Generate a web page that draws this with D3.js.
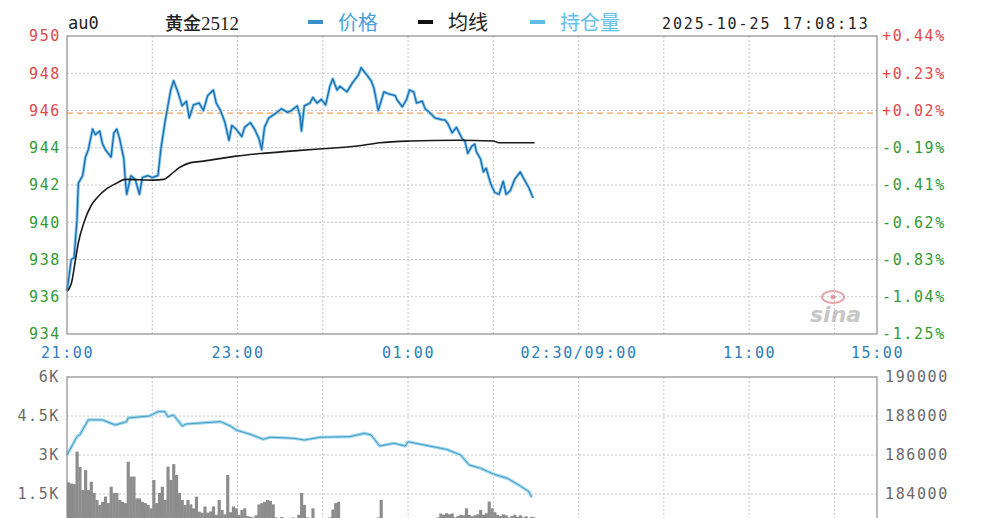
<!DOCTYPE html>
<html><head><meta charset="utf-8">
<script src="https://cdn.jsdelivr.net/npm/d3@7/dist/d3.min.js"></script>
<style>
html,body{margin:0;padding:0;background:#fff;overflow:hidden}
svg{display:block}
.mono{font-family:"DejaVu Sans Mono","Liberation Mono",monospace}
</style></head>
<body>
<script>
// ===== DATA =====
const symbolCode = "au0";
const symbolName = "黄金2512";
const legendNames = ["价格", "均线", "持仓量"];
const timestampText = "2025-10-25 17:08:13";
const prevClose = 945.86;

const priceTicks = [934, 936, 938, 940, 942, 944, 946, 948, 950];
const pctLabels = ["-1.25%", "-1.04%", "-0.83%", "-0.62%", "-0.41%", "-0.19%", "+0.02%", "+0.23%", "+0.44%"];
const timeTickMinutes = [0, 120, 240, 360, 480, 570];
const timeTickLabels = ["21:00", "23:00", "01:00", "02:30/09:00", "11:00", "15:00"];
const gridMinutes = [60, 120, 180, 240, 300, 360, 420, 480, 540];
const volTicks = [1500, 3000, 4500, 6000];
const volTickLabels = ["1.5K", "3K", "4.5K", "6K"];
const oiTicks = [184000, 186000, 188000, 190000];

// price: minutes since 21:00 and price
const priceMinutes = [0,3,5,7,8,11,13,15,18,20,23,25,27,31,33,35,37,40,41,42,45,48,51,53,57,60,64,66,69,73,75,78,81,84,86,89,93,96,99,103,105,108,111,114,116,119,123,125,129,132,135,137,139,142,146,151,155,158,162,164,165,167,171,173,176,179,182,185,187,190,192,197,201,205,207,211,214,216,219,223,226,231,232,236,239,241,244,246,250,252,255,259,264,266,268,271,274,278,280,282,285,287,288,291,293,295,298,301,304,307,309,312,315,319,321,325,328];
const priceValues = [936.3,938.0,938.1,940.1,942.1,942.5,943.5,943.9,945.0,944.7,944.9,944.2,943.9,943.5,944.8,945.0,944.5,943.4,942.3,941.5,942.5,942.3,941.5,942.4,942.5,942.4,942.5,943.9,945.4,947.1,947.6,947.0,946.25,946.5,945.6,946.3,946.4,946.0,946.8,947.1,946.4,946.0,945.4,944.4,945.2,945.0,944.6,945.1,945.35,945.0,944.5,943.9,945.1,945.6,945.8,946.1,945.9,946.0,946.25,945.7,944.9,946.25,946.4,946.7,946.4,946.6,946.3,947.3,947.7,947.1,947.3,947.0,947.5,947.9,948.3,947.9,947.6,947.2,946.0,947.0,946.9,946.8,946.6,946.2,946.6,947.1,947.0,946.4,946.5,946.1,945.9,945.6,945.5,945.5,945.3,944.8,945.1,944.5,944.35,943.7,944.1,944.2,943.8,943.4,942.7,942.9,942.1,941.6,941.5,942.2,941.5,941.7,942.3,942.7,942.4,941.85,941.3];

// average price line
const avgMinutes = [0,3,6,8,12,17,21,28,35,41,61,68,73,79,87,96,119,138,164,180,204,220,241,274,300,304,329];
const avgValues = [936.3,936.7,938.0,938.9,940.0,940.9,941.3,941.8,942.1,942.3,942.26,942.3,942.56,942.93,943.2,943.28,943.55,943.7,943.86,943.95,944.09,944.27,944.36,944.4,944.36,944.27,944.27];

// open interest
const oiMinutes = [0,7,9,15,25,34,42,43,58,64,69,71,75,81,84,98,108,115,119,129,138,143,159,167,178,199,209,214,220,230,238,240,255,267,277,283,291,300,310,318,325,327];
const oiValues = [186000,186940,187030,187800,187800,187540,187710,187900,188000,188220,188220,187960,188050,187490,187590,187660,187710,187490,187280,187060,186810,186910,186860,186770,186910,186940,187110,187030,186460,186600,186460,186680,186460,186290,186000,185490,185320,185030,184800,184460,184120,183830];

// volume, 2-minute bins from 21:00
const volumes = [1950,1900,1880,3130,2540,1650,2420,1650,1970,1540,1270,1080,1200,1400,1150,1780,1540,1540,1270,1200,1150,2740,2170,2170,1330,1330,1200,1150,1080,950,2040,1150,1540,1780,1270,2550,2040,2650,2230,1540,1270,1080,1270,1100,950,1400,820,780,1020,780,830,1020,700,1270,890,720,2230,800,1020,950,700,890,950,650,620,600,680,1100,1150,1200,1270,1240,1100,600,550,620,500,580,520,600,540,700,1540,1080,600,550,950,520,480,560,500,450,600,900,1150,1200,550,500,460,520,480,440,500,460,420,480,520,450,500,600,1270,550,480,440,500,460,420,480,450,400,460,500,440,420,480,450,500,520,480,560,600,750,700,760,720,750,600,650,700,680,950,700,640,680,720,890,700,760,1210,950,800,700,650,720,680,600,650,700,620,680,600,640,580,620,600];
const volBinMinutes = 2;

// ===== DRAW =====
const W = 990, H = 518;
const L = 67, R = 877;
const topY = 36, botY = 334;
const vTop = 377, vBot = 533;
const RED = "#e2474c", GREEN = "#349a34", BLUE_T = "#2b7dba", GRAY = "#6a6a6a";

const svg = d3.select("body").append("svg").attr("width", W).attr("height", H);

const x = d3.scaleLinear().domain([0, 570]).range([L, R]);
const yP = d3.scaleLinear().domain([934, 950]).range([botY, topY]);
const yV = d3.scaleLinear().domain([0, 6000]).range([vBot, vTop]);
const yO = d3.scaleLinear().domain([182000, 190000]).range([vBot, vTop]);

// ---- header ----
const hdr = svg.append("g");
hdr.append("text").attr("x", 68).attr("y", 29).attr("class", "mono")
  .style("font-size", "17px").attr("fill", "#222").text(symbolCode);
hdr.append("text").attr("x", 165).attr("y", 30)
  .style("font-family", "'Noto Sans CJK SC',sans-serif").style("font-size", "18px").style("font-weight", "500")
  .attr("fill", "#222").text(symbolName.slice(0, 2))
  .append("tspan").style("font-family", "'Liberation Serif',serif").style("font-size", "19px").style("font-weight", "400")
  .text(symbolName.slice(2));
const legendItems = [
  {x: 308, c: "#3a8fd0", tc: "#4aa2dc", name: legendNames[0]},
  {x: 418, c: "#111", tc: "#222", name: legendNames[1]},
  {x: 530, c: "#5cbde6", tc: "#66bfe8", name: legendNames[2]}
];
legendItems.forEach(it => {
  hdr.append("rect").attr("x", it.x).attr("y", 20).attr("width", 15).attr("height", 4).attr("fill", it.c);
  hdr.append("text").attr("x", it.x + 30).attr("y", 30)
    .style("font-family", "'Noto Sans CJK SC',sans-serif").style("font-size", "20px")
    .attr("fill", it.tc).text(it.name);
});
hdr.append("text").attr("x", 662).attr("y", 29).attr("class", "mono")
  .style("font-size", "15px").style("letter-spacing", "1.9px").attr("fill", "#222").text(timestampText);

// ---- grids ----
function dashedH(g, y) {
  g.append("line").attr("x1", L).attr("x2", R).attr("y1", y).attr("y2", y)
    .attr("stroke", "#c4c4c4").attr("stroke-dasharray", "2,2").attr("stroke-width", 1);
}
function dashedV(g, xx, y1, y2) {
  g.append("line").attr("x1", xx).attr("x2", xx).attr("y1", y1).attr("y2", y2)
    .attr("stroke", "#c4c4c4").attr("stroke-dasharray", "2,2").attr("stroke-width", 1);
}
const grid = svg.append("g");
priceTicks.filter(d => d > 934 && d < 950).forEach(d => dashedH(grid, yP(d)));
gridMinutes.forEach(m => dashedV(grid, x(m), topY, botY));
volTicks.filter(d => d < 6000).forEach(d => dashedH(grid, yV(d)));
gridMinutes.forEach(m => dashedV(grid, x(m), vTop, vBot));

// prev close dashed orange
svg.append("line").attr("x1", L).attr("x2", R).attr("y1", yP(prevClose)).attr("y2", yP(prevClose))
  .attr("stroke", "#f0a35a").attr("stroke-width", 1.3).attr("stroke-dasharray", "6,4");

// watermark sina
const wm = svg.append("g").attr("opacity", 0.55);
wm.append("ellipse").attr("cx", 833).attr("cy", 297).attr("rx", 11).attr("ry", 6)
  .attr("fill", "none").attr("stroke", "#d06060").attr("stroke-width", 2);
wm.append("circle").attr("cx", 833).attr("cy", 297).attr("r", 2.5).attr("fill", "#d06060");
wm.append("text").attr("x", 810).attr("y", 322)
  .style("font-family", "'DejaVu Sans',sans-serif").style("font-size", "22px").style("font-weight", "bold")
  .style("font-style", "italic").attr("fill", "#9a9a9a").text("sina");

// ---- volume bars ----
const bw = x(volBinMinutes) - x(0);
svg.append("g").selectAll("rect").data(volumes).join("rect")
  .attr("x", (d, i) => x(i * volBinMinutes))
  .attr("width", bw + 0.3)
  .attr("y", d => yV(d))
  .attr("height", d => vBot - yV(d))
  .attr("fill", "#8c8c8c");

// ---- open interest line ----
const oiData = oiMinutes.map((m, i) => [m, oiValues[i]]);
const oiLine = d3.line().x(d => x(d[0])).y(d => yO(d[1]));
svg.append("path").datum(oiData).attr("d", oiLine).attr("fill", "none")
  .attr("stroke", "#9bd6f0").attr("stroke-width", 3.2).attr("stroke-linejoin", "round");
svg.append("path").datum(oiData).attr("d", oiLine).attr("fill", "none")
  .attr("stroke", "#4a9cc0").attr("stroke-width", 1).attr("stroke-linejoin", "round");

// ---- price & average ----
const pData = priceMinutes.map((m, i) => [m, priceValues[i]]);
const aData = avgMinutes.map((m, i) => [m, avgValues[i]]);
const pLine = d3.line().x(d => x(d[0])).y(d => yP(d[1]));
svg.append("path").datum(pData).attr("d", pLine).attr("fill", "none")
  .attr("stroke", "#7cc4ee").attr("stroke-width", 3).attr("stroke-linejoin", "round");
svg.append("path").datum(pData).attr("d", pLine).attr("fill", "none")
  .attr("stroke", "#1d68a8").attr("stroke-width", 1.2).attr("stroke-linejoin", "round");
svg.append("path").datum(aData).attr("d", d3.line().curve(d3.curveMonotoneX).x(d => x(d[0])).y(d => yP(d[1])))
  .attr("fill", "none").attr("stroke", "#1a1a1a").attr("stroke-width", 1.6);

// ---- frames ----
svg.append("rect").attr("x", L).attr("y", topY).attr("width", R - L).attr("height", botY - topY)
  .attr("fill", "none").attr("stroke", "#8c8c8c").attr("stroke-width", 1.2);
svg.append("rect").attr("x", L).attr("y", vTop).attr("width", R - L).attr("height", vBot - vTop + 20)
  .attr("fill", "none").attr("stroke", "#8c8c8c").attr("stroke-width", 1.2);

// ---- axes ----
function styleAxis(g) {
  g.select(".domain").remove();
  g.selectAll(".tick line").remove();
  g.selectAll("text").attr("class", "mono").style("font-size", "15px").style("letter-spacing", "1.6px");
}
const axL = svg.append("g").attr("transform", `translate(${L - 6},0)`)
  .call(d3.axisLeft(yP).tickValues(priceTicks).tickFormat(d => String(d)).tickSize(0).tickPadding(0));
styleAxis(axL);
axL.selectAll("text").attr("fill", d => d > prevClose ? RED : GREEN);

const axR = svg.append("g").attr("transform", `translate(${R + 5},0)`)
  .call(d3.axisRight(yP).tickValues(priceTicks).tickFormat((d, i) => pctLabels[i]).tickSize(0).tickPadding(0));
styleAxis(axR);
axR.selectAll("text").attr("fill", d => d > prevClose ? RED : GREEN);

const axT = svg.append("g").attr("transform", `translate(0,${botY + 13})`)
  .call(d3.axisBottom(x).tickValues(timeTickMinutes).tickFormat((d, i) => timeTickLabels[i]).tickSize(0).tickPadding(0));
styleAxis(axT);
axT.selectAll("text").attr("fill", BLUE_T).attr("dy", "0.7em");

const axVL = svg.append("g").attr("transform", `translate(${L - 7},0)`)
  .call(d3.axisLeft(yV).tickValues(volTicks).tickFormat((d, i) => volTickLabels[i]).tickSize(0).tickPadding(0));
styleAxis(axVL);
axVL.selectAll("text").attr("fill", GRAY);

const axVR = svg.append("g").attr("transform", `translate(${R + 8},0)`)
  .call(d3.axisRight(yO).tickValues(oiTicks).tickFormat(d => String(d)).tickSize(0).tickPadding(0));
styleAxis(axVR);
axVR.selectAll("text").attr("fill", GRAY);
</script>
</body></html>
